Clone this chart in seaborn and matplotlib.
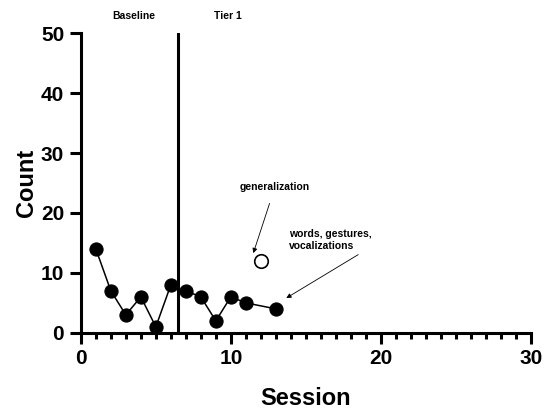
import numpy as np
import pandas as pd
import matplotlib
matplotlib.use("Agg")
import matplotlib.pyplot as plt
import seaborn as sns

# data
base_session = [1, 2, 3, 4, 5, 6]
base_count = [14, 7, 3, 6, 1, 8]
tier_session = [7, 8, 9, 10, 11, 13]
tier_count = [7, 6, 2, 6, 5, 4]
gen_session = [12]
gen_count = [12]
phase_change = 6.5

sns.set_style("ticks")
plt.rcParams['font.family'] = ['Liberation Sans', 'DejaVu Sans']
plt.rcParams['font.weight'] = 'bold'
for k in ['text.color', 'axes.edgecolor', 'axes.labelcolor', 'xtick.color', 'ytick.color']:
    plt.rcParams[k] = 'black'

df_base = pd.DataFrame({'Session': base_session, 'Count': base_count})
df_tier = pd.DataFrame({'Session': tier_session, 'Count': tier_count})
df_gen = pd.DataFrame({'Session': gen_session, 'Count': gen_count})

fig = plt.figure(figsize=(5.5, 4.15), dpi=100)
ax = fig.add_axes([0.147, 0.198, 0.818, 0.722])

for d in [df_base, df_tier]:
    sns.lineplot(data=d, x='Session', y='Count', ax=ax, color='black',
                 linewidth=1.1, marker='o', markersize=9.5,
                 markerfacecolor='black', markeredgecolor='black', clip_on=False)

sns.scatterplot(data=df_gen, x='Session', y='Count', ax=ax, s=95,
                facecolor='white', edgecolor='black', linewidth=1.2, zorder=5)

ax.plot([phase_change, phase_change], [0, 50], color='black', lw=2.2)

ax.set_xlim(0, 30)
ax.set_ylim(0, 50)
ax.set_xticks([0, 10, 20, 30])
ax.set_xticks(np.arange(0, 31, 1), minor=True)
ax.set_yticks([0, 10, 20, 30, 40, 50])
sns.despine(ax=ax)
for s in ['left', 'bottom']:
    ax.spines[s].set_linewidth(2.2)
ax.tick_params(axis='both', which='major', width=2.2, length=8, labelsize=15, pad=4)
ax.tick_params(axis='x', which='minor', width=2.2, length=4)
for lab in ax.get_xticklabels() + ax.get_yticklabels():
    lab.set_fontweight('bold')

ax.set_xlabel('Session', fontsize=17, fontweight='bold', labelpad=13)
ax.set_ylabel('Count', fontsize=17, fontweight='bold', labelpad=2)

ax.text(3.5, 52.8, 'Baseline', fontsize=7.5, fontweight='bold', ha='center', va='center', clip_on=False)
ax.text(9.8, 52.8, 'Tier 1', fontsize=7.5, fontweight='bold', ha='center', va='center', clip_on=False)

ax.annotate('generalization', xy=(11.5, 13.3), xytext=(10.6, 24.3),
            fontsize=7.5, fontweight='bold', ha='left', va='center',
            arrowprops=dict(arrowstyle='-|>', color='black', lw=0.6,
                            shrinkA=6, shrinkB=0, mutation_scale=7))
ax.annotate('words, gestures,\nvocalizations', xy=(13.7, 5.8), xytext=(13.9, 15.5),
            fontsize=7.5, fontweight='bold', ha='left', va='center', linespacing=1.35,
            arrowprops=dict(arrowstyle='-|>', color='black', lw=0.6,
                            shrinkA=0, shrinkB=0, mutation_scale=7,
                            relpos=(0.9, 0.0)))

fig.savefig('out.png', dpi=100)
